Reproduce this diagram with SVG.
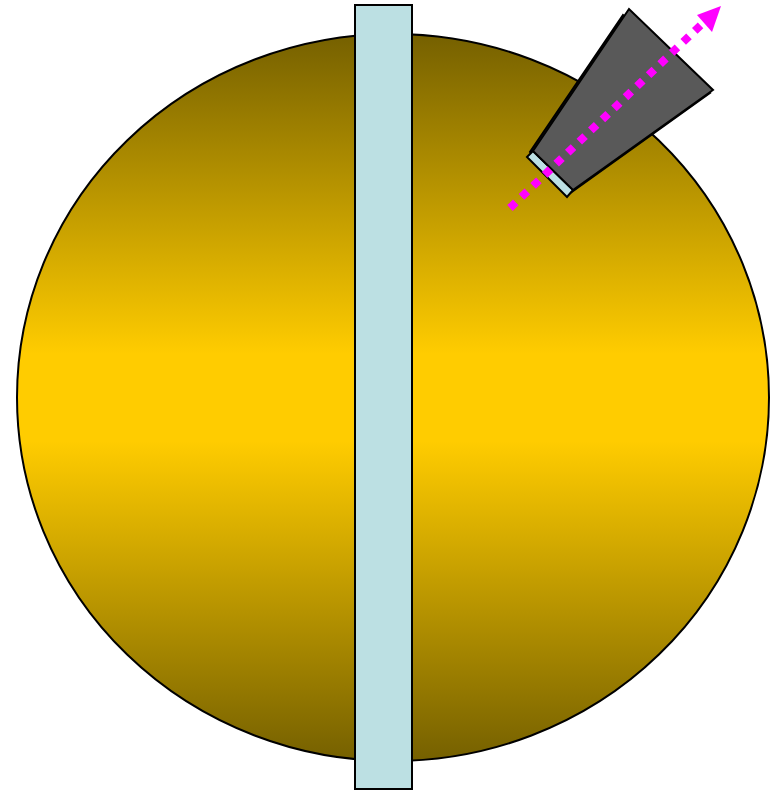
<svg xmlns="http://www.w3.org/2000/svg" width="777" height="793" viewBox="0 0 777 793">
<defs>
<linearGradient id="g" x1="0" y1="0" x2="0" y2="1">
<stop offset="0" stop-color="#756000"/>
<stop offset="0.44" stop-color="#ffcc00"/>
<stop offset="0.56" stop-color="#ffcc00"/>
<stop offset="1" stop-color="#756000"/>
</linearGradient>
<style>
.o{stroke:#000;stroke-width:2}
</style>
</defs>
<g id="sphere"><ellipse cx="393" cy="397.5" rx="376" ry="363.5" fill="url(#g)" class="o"/></g>
<g id="bar"><rect x="355" y="5" width="57" height="784" fill="#bce0e3" class="o"/></g>
<g id="detector">
<polygon points="623,15 710,93 569,194 530,152" fill="#222" class="o"/>
<polygon points="527,157 533,151 573,190 567,197" fill="#bce0e3" class="o"/>
<polygon points="533,151 629,9 713,90 573,190" fill="#595959" class="o"/>
</g>
<g id="connectors">
<line x1="510" y1="208" x2="705" y2="21" stroke="#ff00ff" stroke-width="8" stroke-dasharray="8 8"/>
<polygon points="721,6 697,15 712,32" fill="#ff00ff"/>
</g>
</svg>
